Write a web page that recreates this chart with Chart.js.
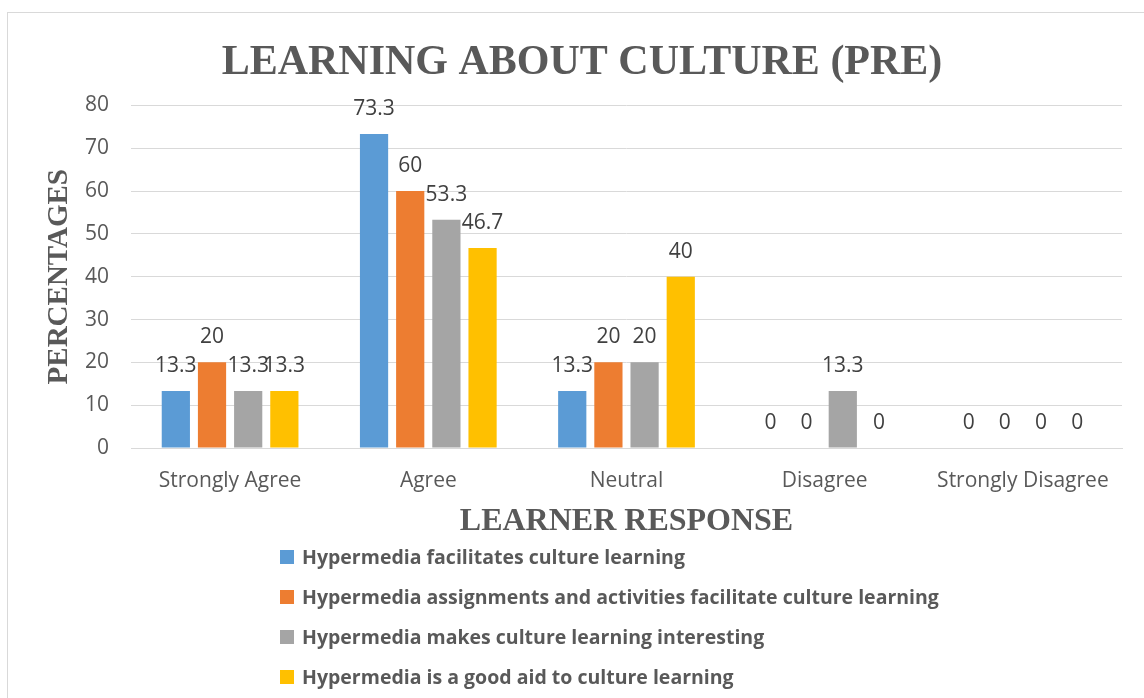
<!DOCTYPE html>
<html>
<head>
<meta charset="utf-8">
<script src="https://cdn.jsdelivr.net/npm/chart.js@4"></script>
<style>
  html, body { margin: 0; padding: 0; background: #fff; overflow: hidden; }
  #wrap { position: relative; width: 1144px; height: 698px; }
  #frame { position: absolute; left: 7px; top: 12px; width: 1200px; height: 800px; border: 1px solid #d9d9d9; box-sizing: border-box; }
  #chart { position: absolute; left: 0; top: 0; }
  #legend { position: absolute; left: 280px; top: 545px; font-family: "Open Sans", sans-serif; font-weight: bold; font-size: 19.5px; color: #595959; white-space: nowrap; }
  #legend div { height: 40px; line-height: 24px; display: flex; align-items: flex-start; }
  #legend span.box { display: inline-block; flex: none; width: 14px; height: 14px; margin: 5px 8px 0 0; }
</style>
</head>
<body>
<div id="wrap">
  <div id="frame"></div>
  <canvas id="chart" width="1144" height="698"></canvas>
  <div id="legend"></div>
</div>
<script>
const categories = ['Strongly Agree', 'Agree', 'Neutral', 'Disagree', 'Strongly Disagree'];
const seriesNames = [
  'Hypermedia facilitates culture learning',
  'Hypermedia assignments and activities facilitate culture learning',
  'Hypermedia makes culture learning interesting',
  'Hypermedia is a good aid to culture learning'
];
const facilitates = [13.3, 73.3, 13.3, 0, 0];
const assignments = [20, 60, 20, 0, 0];
const interesting = [13.3, 53.3, 20, 13.3, 0];
const goodAid = [13.3, 46.7, 40, 0, 0];
const colors = ['#5B9BD5', '#ED7D31', '#A5A5A5', '#FFC000'];

const seriesValues = [facilitates, assignments, interesting, goodAid];

// simple value labels above each bar
const barLabels = {
  id: 'barLabels',
  afterDatasetsDraw(chart) {
    const ctx = chart.ctx;
    ctx.save();
    ctx.font = '21px "Open Sans", sans-serif';
    ctx.fillStyle = '#404040';
    ctx.textAlign = 'center';
    ctx.textBaseline = 'middle';
    chart.data.datasets.forEach((ds, i) => {
      chart.getDatasetMeta(i).data.forEach((bar, j) => {
        ctx.fillText(String(ds.data[j]), bar.x, bar.y - 25);
      });
    });
    ctx.restore();
  }
};

const ctx = document.getElementById('chart').getContext('2d');
new Chart(ctx, {
  type: 'bar',
  data: {
    labels: categories,
    datasets: seriesValues.map((vals, i) => ({
      label: seriesNames[i],
      data: vals,
      backgroundColor: colors[i],
      barPercentage: 0.78,
      categoryPercentage: 0.73
    }))
  },
  options: {
    responsive: false,
    animation: false,
    layout: { padding: { left: 42, right: 22, top: 38, bottom: 157 } },
    scales: {
      x: {
        grid: { display: false, drawTicks: false },
        border: { color: '#d9d9d9', width: 1 },
        ticks: { color: '#595959', font: { family: 'Open Sans', size: 21 }, padding: 20 },
        title: {
          display: true,
          text: 'LEARNER RESPONSE',
          color: '#595959',
          font: { family: 'Liberation Serif', size: 32, weight: 'bold' },
          padding: { top: 0, bottom: 0 }
        },
        afterFit: (scale) => { scale.height = 93; }
      },
      y: {
        min: 0,
        max: 80,
        ticks: { stepSize: 10, color: '#595959', font: { family: 'Open Sans', size: 21 }, padding: 22 },
        grid: { color: '#d9d9d9', drawTicks: false },
        border: { display: false },
        title: {
          display: true,
          text: 'PERCENTAGES',
          color: '#595959',
          font: { family: 'Liberation Serif', size: 29, weight: 'bold' },
          padding: 0
        },
        afterFit: (scale) => { scale.width = 89; }
      }
    },
    plugins: {
      legend: { display: false },
      tooltip: { enabled: false },
      title: {
        display: true,
        text: 'LEARNING ABOUT CULTURE (PRE)',
        color: '#595959',
        font: { family: 'Liberation Serif', size: 42, weight: 'bold' },
        padding: { top: 0, bottom: 17 }
      }
    }
  },
  plugins: [barLabels]
});

const legendEl = document.getElementById('legend');
seriesNames.forEach((name, i) => {
  const row = document.createElement('div');
  const box = document.createElement('span');
  box.className = 'box';
  box.style.background = colors[i];
  row.appendChild(box);
  row.appendChild(document.createTextNode(name));
  legendEl.appendChild(row);
});
</script>
</body>
</html>
